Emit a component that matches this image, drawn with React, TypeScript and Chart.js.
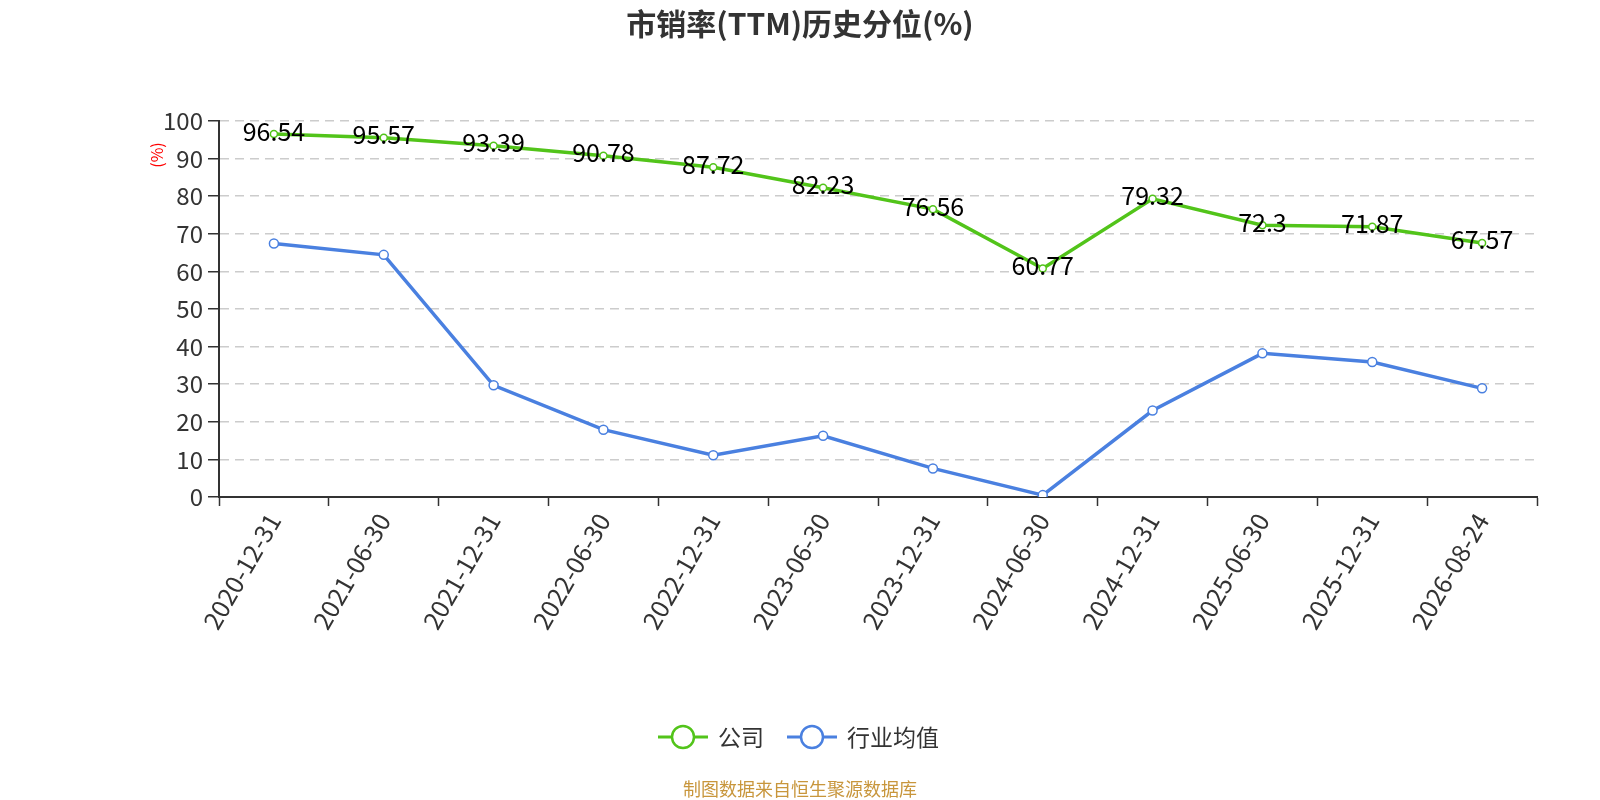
import React, { useEffect, useRef } from "react";
import { Chart, registerables } from "chart.js";

Chart.register(...registerables);

const categories = [
  "2020-12-31", "2021-06-30", "2021-12-31", "2022-06-30", "2022-12-31", "2023-06-30",
  "2023-12-31", "2024-06-30", "2024-12-31", "2025-06-30", "2025-12-31", "2026-08-24",
];
const companyValues = [96.54, 95.57, 93.39, 90.78, 87.72, 82.23, 76.56, 60.77, 79.32, 72.3, 71.87, 67.57];
const industryValues = [67.4, 64.4, 29.7, 17.9, 11.1, 16.3, 7.6, 0.5, 23.0, 38.2, 35.9, 28.9];
const seriesNames = ["公司", "行业均值"];
const titleText = "市销率(TTM)历史分位(%)";
const yAxisTitle = "(%)";
const footerText = "制图数据来自恒生聚源数据库";

const GREEN = "#52c41a";
const BLUE = "#4a80e0";
const FONT = "'Noto Sans CJK SC', 'Noto Sans', sans-serif";

const overlayPlugin = {
  id: "overlay",
  afterDatasetsDraw(chart: any) {
    const ctx = chart.ctx;
    const meta = chart.getDatasetMeta(0);
    ctx.save();
    ctx.font = `25px ${FONT}`;
    ctx.fillStyle = "#000";
    ctx.textAlign = "center";
    ctx.textBaseline = "middle";
    meta.data.forEach((pt: any, i: number) => {
      ctx.fillText(String(companyValues[i]), pt.x, pt.y - 3);
    });
    ctx.restore();
  },
  afterDraw(chart: any) {
    const ctx = chart.ctx;
    ctx.save();
    // title
    ctx.font = `bold 30px ${FONT}`;
    ctx.fillStyle = "#333";
    ctx.textAlign = "center";
    ctx.textBaseline = "middle";
    ctx.fillText(titleText, 800, 24);
    // y axis title
    ctx.save();
    ctx.translate(157, 155);
    ctx.rotate(-Math.PI / 2);
    ctx.font = `16px ${FONT}`;
    ctx.fillStyle = "#ff0000";
    ctx.fillText(yAxisTitle, 0, 0);
    ctx.restore();
    // legend
    const items = [
      { x: 658, color: GREEN, name: seriesNames[0] },
      { x: 787, color: BLUE, name: seriesNames[1] },
    ];
    const ly = 737;
    items.forEach((it) => {
      ctx.strokeStyle = it.color;
      ctx.lineWidth = 3;
      ctx.beginPath();
      ctx.moveTo(it.x, ly);
      ctx.lineTo(it.x + 50, ly);
      ctx.stroke();
      ctx.beginPath();
      ctx.arc(it.x + 25, ly, 11, 0, Math.PI * 2);
      ctx.fillStyle = "#fff";
      ctx.fill();
      ctx.lineWidth = 2.5;
      ctx.stroke();
      ctx.font = `23px ${FONT}`;
      ctx.fillStyle = "#333";
      ctx.textAlign = "left";
      ctx.fillText(it.name, it.x + 60, ly);
    });
    // footer
    ctx.font = `18px ${FONT}`;
    ctx.fillStyle = "#c8963c";
    ctx.textAlign = "center";
    ctx.fillText(footerText, 800, 789);
    ctx.restore();
  },
};

export default function App() {
  const ref = useRef<HTMLCanvasElement>(null);
  useEffect(() => {
    if (!ref.current) return;
    const chart = new Chart(ref.current, {
      type: "line",
      data: {
        labels: categories,
        datasets: [
          {
            label: seriesNames[0],
            data: companyValues,
            borderColor: GREEN,
            backgroundColor: "#fff",
            borderWidth: 3.5,
            pointRadius: 3.5,
            pointBorderWidth: 1.5,
            pointBackgroundColor: "#fff",
            pointBorderColor: GREEN,
            tension: 0,
          },
          {
            label: seriesNames[1],
            data: industryValues,
            borderColor: BLUE,
            backgroundColor: "#fff",
            borderWidth: 3.5,
            pointRadius: 4.5,
            pointBorderWidth: 1.5,
            pointBackgroundColor: "#fff",
            pointBorderColor: BLUE,
            tension: 0,
          },
        ],
      },
      options: {
        responsive: false,
        animation: false,
        devicePixelRatio: 1,
        layout: { padding: { left: 139, right: 63, top: 121, bottom: 0 } },
        plugins: {
          legend: { display: false },
          title: { display: false },
          tooltip: { enabled: false },
        },
        scales: {
          x: {
            type: "category",
            offset: true,
            afterFit: (s: any) => {
              s.height = 303;
            },
            grid: {
              display: true,
              offset: true,
              drawOnChartArea: false,
              tickLength: 9,
              tickColor: "#333",
              tickWidth: 1.5,
            },
            border: { display: true, color: "#333", width: 2 },
            ticks: {
              minRotation: 60,
              maxRotation: 60,
              autoSkip: false,
              color: "#333",
              font: { size: 25, family: FONT },
              padding: 2,
            },
          },
          y: {
            min: 0,
            max: 100,
            afterFit: (s: any) => {
              s.width = 80;
            },
            grid: {
              color: "#cccccc",
              lineWidth: 1.5,
              tickColor: "#333",
              tickLength: 11,
              tickWidth: 1.5,
              tickBorderDash: [],
            },
            border: { display: true, color: "#333", width: 2, dash: [9, 6] },
            ticks: {
              stepSize: 10,
              color: "#333",
              font: { size: 24, family: FONT },
              padding: 5,
            },
          },
        },
      },
      plugins: [overlayPlugin],
    } as any);
    return () => chart.destroy();
  }, []);
  return (
    <div style={{ position: "absolute", left: 0, top: 0, width: 1600, height: 800, background: "#fff" }}>
      <canvas ref={ref} width={1600} height={800} style={{ width: 1600, height: 800, display: "block" }} />
    </div>
  );
}
